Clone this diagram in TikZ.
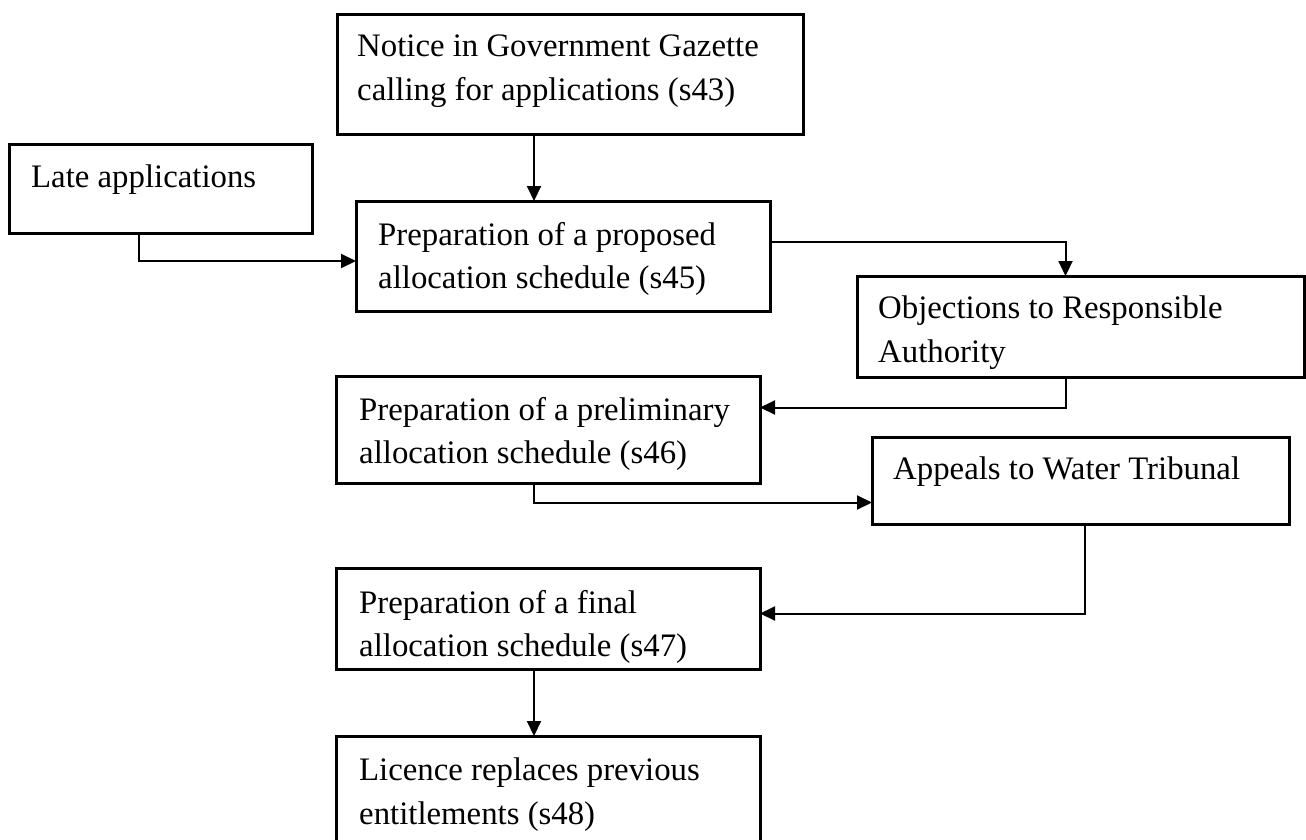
\documentclass[tikz,border=0pt]{standalone}
\usepackage{fontspec}
\setmainfont{Liberation Serif}
\usepackage{tikz}
\usetikzlibrary{arrows.meta, positioning}

\begin{document}
\begin{tikzpicture}[
    x=1pt, y=-1pt,
    box/.style={draw, line width=3pt, inner sep=0pt, outer sep=0pt, anchor=north west},
    txt/.style={font=\fontsize{32.8}{43.5}\selectfont, align=left, inner sep=0pt, anchor=north west},
    arr/.style={-{Triangle[length=15pt, width=14pt]}, line width=2pt},
]
\useasboundingbox (0,0) rectangle (1306,839);
\clip (0,0) rectangle (1306,839);

% ---- Kutije ----
\node[box, minimum width=466pt, minimum height=120pt] (notice) at (337,14) {};
\node[txt] (noticetxt) at ([shift={(20,21)}]notice.north west) {Notice in Government Gazette\\calling for applications (s43)};

\node[box, minimum width=303pt, minimum height=89pt] (late) at (9,144) {};
\node[txt] (latetxt) at ([shift={(22,21)}]late.north west) {Late applications};

\node[box, minimum width=414pt, minimum height=110pt] (proposed) at (356,201) {};
\node[txt] (proposedtxt) at ([shift={(22,21)}]proposed.north west) {Preparation of a proposed\\allocation schedule (s45)};

\node[box, minimum width=447pt, minimum height=101pt] (objections) at (857,276) {};
\node[txt] (objectionstxt) at ([shift={(21,20)}]objections.north west) {Objections to Responsible\\Authority};

\node[box, minimum width=424pt, minimum height=107pt] (prelim) at (336,376) {};
\node[txt] (prelimtxt) at ([shift={(23,21)}]prelim.north west) {Preparation of a preliminary\\allocation schedule (s46)};

\node[box, minimum width=417pt, minimum height=87pt] (appeals) at (872,437) {};
\node[txt] (appealstxt) at ([shift={(21,20)}]appeals.north west) {Appeals to Water Tribunal};

\node[box, minimum width=424pt, minimum height=101pt] (final) at (336,568) {};
\node[txt] (finaltxt) at ([shift={(23,22)}]final.north west) {Preparation of a final\\allocation schedule (s47)};

\node[box, minimum width=424pt, minimum height=140pt] (licence) at (336,736) {};
\node[txt] (licencetxt) at ([shift={(23,22)}]licence.north west) {Licence replaces previous\\entitlements (s48)};

% ---- Strelice ----
\coordinate (spine) at (534,0);
\coordinate (lateleg) at (139,0);
\draw[arr] (notice.south -| spine) -- (proposed.north -| spine);
\draw[arr] (late.south -| lateleg) |- ([yshift=-5pt]proposed.west);
\draw[arr] ([yshift=14pt]proposed.east) -| ([xshift=-15pt]objections.north);
\draw[arr] ([xshift=-15pt]objections.south) |- ([yshift=22pt]prelim.east);
\draw[arr] (prelim.south -| spine) |- ([yshift=-22pt]appeals.west);
\draw[arr] ([xshift=4pt]appeals.south) |- ([yshift=5pt]final.east);
\draw[arr] (final.south -| spine) -- (licence.north -| spine);

\end{tikzpicture}
\end{document}
